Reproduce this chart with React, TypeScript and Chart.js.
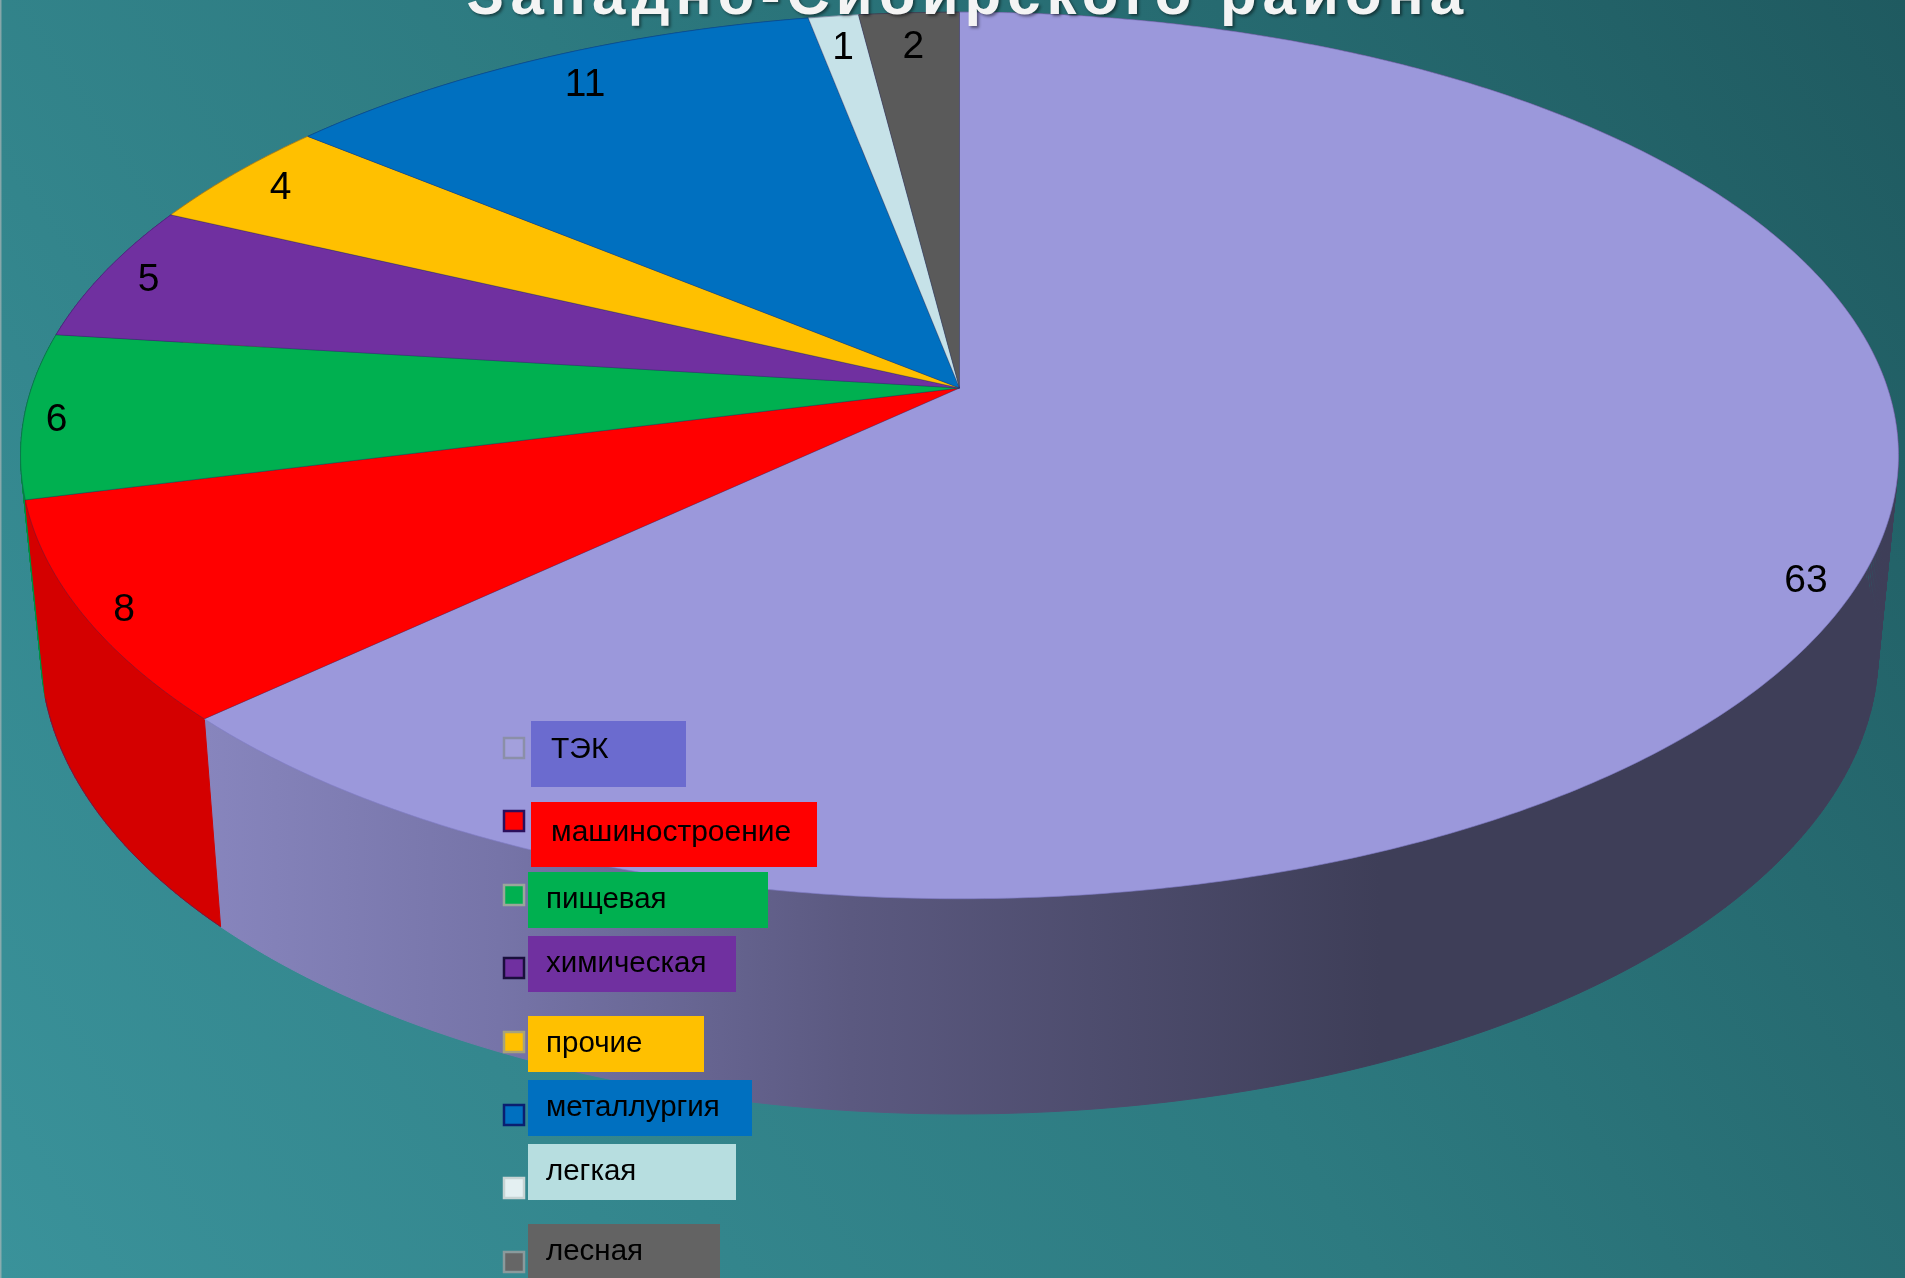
import React, { useEffect, useRef } from "react";
import { Chart, registerables } from "chart.js";

Chart.register(...registerables);

const titleText = "Западно-Сибирского района";
const categories = ["ТЭК", "машиностроение", "пищевая", "химическая", "прочие", "металлургия", "легкая", "лесная"];
const shares = [63, 8, 6, 5, 4, 11, 1, 2];
const sliceColors = ["#9b98db", "#ff0000", "#00b050", "#7030a0", "#ffc000", "#0070c0", "#c6e2e8", "#5a5a5a"];
const wallColors = ["", "#d40000", "#00903f", "#5a2683", "#d29e00", "#005c9e", "#a3bcc0", "#4a4a4a"];
const legendFills = ["#6b6bcf", "#ff0000", "#00b050", "#7030a0", "#ffc000", "#0070c0", "#b7dee0", "#636363"];
const swatchFills = ["#a3a0dc", "#ff0000", "#00b050", "#7030a0", "#ffc000", "#0070c0", "#e4f0f2", "#666666"];
const swatchEdges = ["#8b8fa8", "#2a0f5c", "#9aa79b", "#1a0f3c", "#a8a37a", "#0a1f70", "#c8d4d4", "#8a9a9c"];
const legendFontSizes = [30, 30, 29.5, 29.5, 29.5, 29.5, 29.5, 29.5];

// layout: [x0, y0, x1, y1, swatchCentreY, textX, textCentreY]
const legendBoxes = [
  [531, 721, 686, 787, 748, 551, 750],
  [531, 802, 817, 867, 821, 551, 833],
  [528, 872, 768, 928, 895, 546, 900],
  [528, 936, 736, 992, 968, 546, 964],
  [528, 1016, 704, 1072, 1042, 546, 1044],
  [528, 1080, 752, 1136, 1115, 546, 1108],
  [528, 1144, 736, 1200, 1188, 546, 1172],
  [528, 1224, 720, 1278, 1262, 546, 1252],
];
// layout: nudges of the value labels from their slice anchor, [dx, dy]
const labelNudges = [[-12, 18], [-5, 7], [-15, 4], [-4, 0], [1, 0], [15, 2], [1, 4], [1, 6]];

const W = 1905;
const H = 1278;
const CX = 959.5;
const P = -0.1522;
const top3d = { x: 928, y0: 388, a: 433 };
const base3d = { x: 908, y0: 582, a: 451 };
const FONT = '"Liberation Sans", Arial, sans-serif';

function project(g: { x: number; y0: number; a: number }, angle: number, r = 1) {
  const u = Math.cos(angle) * r;
  const v = Math.sin(angle) * r;
  const w = 1 + P * v;
  return { x: CX + (g.x * u) / w, y: g.y0 + (g.a * v) / w };
}

function rimPoints(g: any, a0: number, a1: number) {
  const n = Math.max(2, Math.ceil(Math.abs(a1 - a0) / 0.01));
  const pts = [];
  for (let i = 0; i <= n; i++) pts.push(project(g, a0 + ((a1 - a0) * i) / n));
  return pts;
}

const perspectivePie = {
  id: "perspectivePie",
  beforeDraw(chart: any) {
    const { ctx } = chart;
    ctx.save();
    const bg = ctx.createLinearGradient(0, H, W, 0);
    bg.addColorStop(0, "#3a929a");
    bg.addColorStop(0.5, "#2d7a80");
    bg.addColorStop(1, "#1f5a60");
    ctx.fillStyle = bg;
    ctx.fillRect(0, 0, W, H);
    ctx.fillStyle = "rgba(190,190,190,0.6)";
    ctx.fillRect(0, 0, 1.5, H);
    ctx.restore();
  },
  beforeDatasetDraw(chart: any, args: any) {
    const { ctx } = chart;
    const arcs = chart.getDatasetMeta(args.index).data;
    ctx.save();

    // side wall, back slices first
    const order = arcs
      .map((_: any, i: number) => i)
      .sort((a: number, b: number) => {
        const m = (k: number) => Math.sin((arcs[k].startAngle + arcs[k].endAngle) / 2);
        return m(a) - m(b);
      });
    const wallFill = ctx.createLinearGradient(206, 0, 1380, 0);
    wallFill.addColorStop(0, "#8785bd");
    wallFill.addColorStop(0.25, "#7674a8");
    wallFill.addColorStop(0.55, "#5b5980");
    wallFill.addColorStop(1, "#3e3e58");
    order.forEach((i: number) => {
      const a = arcs[i];
      const t = rimPoints(top3d, a.startAngle, a.endAngle);
      const b = rimPoints(base3d, a.startAngle, a.endAngle);
      ctx.fillStyle = wallColors[i] || wallFill;
      ctx.strokeStyle = wallColors[i] || wallFill;
      ctx.lineWidth = 1;
      ctx.beginPath();
      for (let k = 0; k < t.length - 1; k++) {
        ctx.moveTo(t[k].x, t[k].y);
        ctx.lineTo(t[k + 1].x, t[k + 1].y);
        ctx.lineTo(b[k + 1].x, b[k + 1].y);
        ctx.lineTo(b[k].x, b[k].y);
        ctx.closePath();
      }
      ctx.fill("nonzero");
      ctx.stroke();
    });
    // thin outline of the red wall's lower edge
    const red = arcs[1];
    ctx.strokeStyle = "rgba(50,40,110,0.6)";
    ctx.lineWidth = 1;
    ctx.beginPath();
    rimPoints(base3d, red.startAngle, red.endAngle).forEach((p, k) => (k ? ctx.lineTo(p.x, p.y) : ctx.moveTo(p.x, p.y)));
    ctx.stroke();

    // top surface
    arcs.forEach((a: any, i: number) => {
      const rim = rimPoints(top3d, a.startAngle, a.endAngle);
      ctx.beginPath();
      ctx.moveTo(CX, top3d.y0);
      rim.forEach((p) => ctx.lineTo(p.x, p.y));
      ctx.closePath();
      ctx.fillStyle = sliceColors[i];
      ctx.fill();
      ctx.strokeStyle = i === 0 ? "rgba(130,125,200,0.8)" : "rgba(35,35,90,0.4)";
      ctx.lineWidth = 0.8;
      ctx.stroke();
    });
    ctx.restore();
    return false;
  },
  afterDraw(chart: any) {
    const { ctx } = chart;
    const arcs = chart.getDatasetMeta(0).data;
    ctx.save();

    // value labels
    ctx.fillStyle = "#000";
    ctx.font = `39px ${FONT}`;
    ctx.textAlign = "center";
    ctx.textBaseline = "middle";
    arcs.forEach((a: any, i: number) => {
      const mid = (a.startAngle + a.endAngle) / 2;
      const r = 0.95 - 0.03 * Math.max(0, -Math.sin(mid));
      const p = project(top3d, mid, r);
      ctx.fillText(String(shares[i]), p.x + labelNudges[i][0], p.y + 2 + labelNudges[i][1]);
    });

    // legend
    chart.data.labels.forEach((label: string, i: number) => {
      const [x0, y0, x1, y1, sy, tx, ty] = legendBoxes[i];
      ctx.fillStyle = legendFills[i];
      ctx.fillRect(x0, y0, x1 - x0, y1 - y0);
      ctx.fillStyle = swatchFills[i];
      ctx.fillRect(504, sy - 10, 20, 20);
      ctx.strokeStyle = swatchEdges[i];
      ctx.lineWidth = 2.5;
      ctx.strokeRect(504, sy - 10, 20, 20);
      ctx.fillStyle = "#000";
      ctx.font = `${legendFontSizes[i]}px ${FONT}`;
      ctx.textAlign = "left";
      ctx.textBaseline = "middle";
      ctx.fillText(label, tx, ty);
    });

    // title, cut by the page edge as in the source slide
    ctx.font = `bold 60px ${FONT}`;
    (ctx as any).letterSpacing = "6px";
    ctx.textAlign = "center";
    ctx.textBaseline = "alphabetic";
    ctx.shadowColor = "rgba(0,0,0,0.45)";
    ctx.shadowBlur = 3;
    ctx.shadowOffsetX = 2;
    ctx.shadowOffsetY = 2;
    ctx.fillStyle = "#f4f4f4";
    ctx.fillText(titleText, 968, 14);
    ctx.restore();
  },
};

export default function App() {
  const ref = useRef<HTMLCanvasElement>(null);
  useEffect(() => {
    const chart = new Chart(ref.current!, {
      type: "pie",
      data: {
        labels: categories,
        datasets: [{ data: shares, backgroundColor: sliceColors }],
      },
      options: {
        animation: false,
        responsive: false,
        devicePixelRatio: 1,
        rotation: 0,
        plugins: { legend: { display: false }, title: { display: false }, tooltip: { enabled: false } },
      },
      plugins: [perspectivePie],
    } as any);
    return () => chart.destroy();
  }, []);
  return (
    <canvas
      ref={ref}
      width={W}
      height={H}
      style={{ position: "fixed", left: 0, top: 0, width: W, height: H, display: "block" }}
    />
  );
}
